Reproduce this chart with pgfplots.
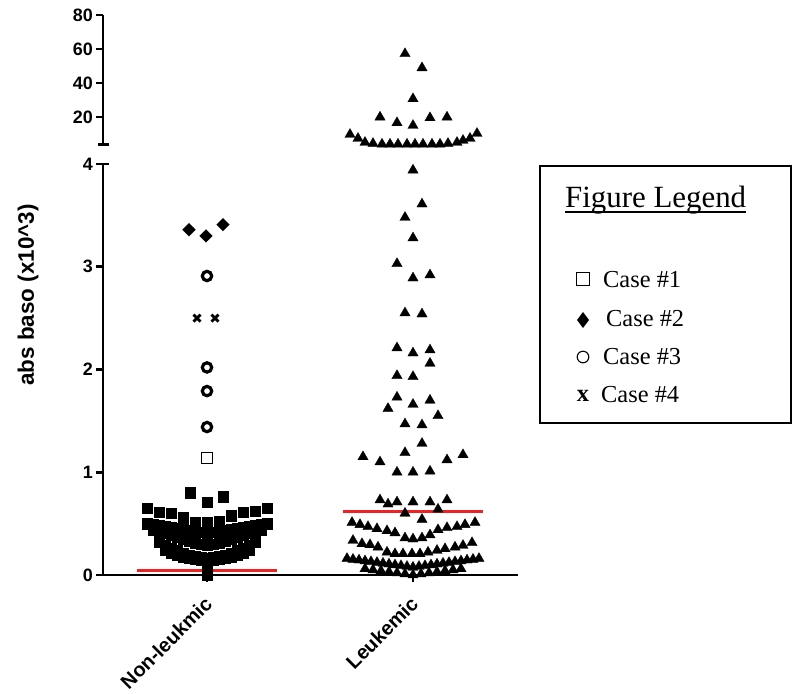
\documentclass[border=0pt]{standalone}
\usepackage{pgfplots}
\pgfplotsset{compat=1.18}
\usepackage{pgfplotstable}
\usepackage{fontspec}
\setmainfont{Liberation Sans}
\newfontfamily\timesfont{Liberation Serif}
\definecolor{medianred}{RGB}{238,34,34}

% x = horizontal position (Non-leukmic column at 0, Leukemic column at 206), y = abs baso (x10^3)
\pgfplotstableread{
x y
-17 0.80
0 0.71
16 0.76
-60 0.65
-48 0.61
-36 0.60
-24 0.56
-12 0.51
0 0.51
12 0.52
24 0.58
36 0.61
48 0.62
60 0.65
-60 0.50
-54 0.49
-48 0.48
-42 0.47
-36 0.46
-30 0.45
-24 0.44
-18 0.43
-12 0.42
-6 0.415
0 0.41
6 0.415
12 0.42
18 0.43
24 0.44
30 0.45
36 0.46
42 0.47
48 0.48
54 0.49
60 0.50
-54 0.44
-48 0.425
-42 0.41
-36 0.39
-30 0.37
-24 0.35
-18 0.33
-12 0.315
-6 0.30
0 0.295
6 0.30
12 0.315
18 0.33
24 0.35
30 0.37
36 0.39
42 0.41
48 0.425
54 0.44
-48 0.32
-42 0.29
-36 0.26
-30 0.235
-24 0.21
-18 0.195
-12 0.18
-6 0.17
0 0.165
6 0.17
12 0.18
18 0.195
24 0.21
30 0.235
36 0.26
42 0.29
48 0.32
-42 0.245
-36 0.22
-30 0.195
-24 0.18
-18 0.165
-12 0.155
-6 0.146
0 0.14
6 0.146
12 0.155
18 0.165
24 0.18
30 0.195
36 0.22
42 0.245
0 0.117
0 0.068
0 0.019
0 0.0
}\nonleuk

% Leukemic values below 4
\pgfplotstableread{
x y
206 3.94
215 3.61
198 3.48
206 3.28
190 3.03
206 2.89
223 2.92
198 2.55
215 2.54
190 2.21
206 2.16
223 2.19
223 2.06
190 1.94
206 1.93
190 1.73
181 1.62
206 1.66
223 1.70
231 1.55
198 1.47
215 1.46
215 1.28
156 1.15
173 1.10
198 1.19
240 1.12
256 1.17
190 1.00
206 1.00
223 1.01
173 0.73
181 0.69
190 0.71
206 0.71
223 0.71
231 0.64
240 0.73
198 0.60
215 0.54
145 0.51
153 0.49
161 0.47
170 0.45
180 0.43
188 0.41
198 0.36
206 0.35
215 0.36
223 0.39
231 0.44
240 0.46
250 0.47
258 0.49
268 0.51
146 0.336
155 0.304
163 0.294
171 0.271
180 0.222
188 0.206
196 0.206
205 0.206
213 0.206
221 0.222
230 0.239
238 0.255
248 0.271
256 0.287
265 0.314
140 0.160
146 0.152
152 0.145
158 0.137
164 0.129
170 0.121
176 0.114
182 0.106
188 0.098
194 0.090
200 0.083
206 0.075
212 0.083
218 0.090
224 0.098
230 0.106
236 0.114
242 0.121
248 0.129
254 0.137
260 0.145
266 0.152
272 0.160
158 0.060
166 0.050
174 0.040
182 0.030
190 0.020
198 0.010
206 0.000
214 0.010
222 0.020
230 0.030
238 0.040
246 0.050
254 0.060
}\leukLow

% Leukemic values of 4 and above
\pgfplotstableread{
x y
198 57.2
215 48.9
206 30.7
173 19.9
190 16.6
206 15.0
223 19.5
240 19.9
143 9.7
151 7.4
158 5.0
166 4.4
175 4.0
183 4.0
191 4.0
200 4.0
208 4.0
216 4.0
225 4.0
233 4.0
241 4.4
250 5.0
256 6.2
263 7.4
270 10.3
}\leukHigh

\tikzset{axisrule/.style={line width=2.8bp, line cap=butt}}

\pgfplotsset{
  panel/.style={
    scale only axis, width=415bp,
    xmin=-104, xmax=311, clip=false,
    axis line style={line width=2.8bp, -},
    every outer x axis line/.append style={-, line width=2.8bp},
    every outer y axis line/.append style={-, line width=2.8bp},
    every tick/.append style={line width=2.8bp, black},
    every major tick/.append style={line width=2.8bp, black},
    major tick length=7bp,
    tick align=outside,
    /pgf/number format/assume math mode=true,
    yticklabel style={font=\fontsize{18}{20}\selectfont\bfseries, inner sep=3bp},
  },
}

\begin{document}
\begin{tikzpicture}
\useasboundingbox (0,0) rectangle (793bp,694bp);

% lower segment, 0 to 4
\begin{axis}[axis x line=bottom, axis y line=left,
  at={(103bp,119bp)}, anchor=south west, height=411bp,
  ymin=0, ymax=4, ytick={0,1,2,3,4},
  xtick={0,206}, xticklabels={Non-leukmic,Leukemic},
  panel,
  xticklabel style={yshift=-17bp, xshift=3bp, rotate=45, anchor=east, inner sep=2bp,
    font=\fontsize{20}{23}\selectfont\bfseries},
]
% axis rules
\draw[axisrule] ([xshift=-1.4bp]rel axis cs:0,0) -- (rel axis cs:1,0);
\draw[axisrule] (rel axis cs:0,0) -- (rel axis cs:0,1);
\addplot[only marks, mark=square*, mark size=5.3pt,
  mark options={fill=black, draw=black, line width=0.3pt}] table {\nonleuk};
\addplot[only marks, mark=square, mark size=5.8pt,
  mark options={fill=white, draw=black, line width=1pt}] coordinates {(0,1.14)};
\addplot[only marks, mark=o, mark size=4.7pt,
  mark options={draw=black, line width=3.2pt}] coordinates {(0,1.44) (0,1.79) (0,2.02) (0,2.91)};
\addplot[only marks, mark=x, mark size=5pt,
  mark options={draw=black, line width=3pt}] coordinates {(-10,2.50) (8,2.50)};
\addplot[only marks, mark=square*, mark size=4.5pt,
  mark options={fill=black, draw=black, rotate=45, line width=0.3pt}]
  coordinates {(-18,3.36) (-1,3.30) (16,3.41)};
\addplot[only marks, mark=triangle*, mark size=6pt,
  mark options={fill=black, draw=black, line width=0.3pt}] table {\leukLow};
% medians
\addplot[medianred, line width=2.8bp, no marks] coordinates {(-70,0.04) (70,0.04)};
\addplot[medianred, line width=2.8bp, no marks] coordinates {(136,0.62) (276,0.62)};
% end cap of the lower segment
\draw[axisrule] ([xshift=-5.5bp]rel axis cs:0,1) -- ([xshift=5.5bp]rel axis cs:0,1);
\end{axis}

% upper segment, 4 to 80
\begin{axis}[axis y line=left, axis x line=none,
  at={(103bp,549.8bp)}, anchor=south west, height=129.2bp,
  ymin=4, ymax=80, ytick={20,40,60,80},
  panel,
]
\draw[axisrule] (rel axis cs:0,0) -- (rel axis cs:0,1);
\addplot[only marks, mark=triangle*, mark size=6pt,
  mark options={fill=black, draw=black, line width=0.3pt}] table {\leukHigh};
\draw[axisrule] ([xshift=-5.5bp]rel axis cs:0,0) -- ([xshift=5.5bp]rel axis cs:0,0);
\end{axis}

% y axis title
\node[rotate=90, font=\fontsize{22.5}{27}\selectfont\bfseries] at (28bp,399bp)
  {abs baso (x10\textasciicircum3)};

% legend box
\draw[line width=1.5bp] (540bp,271bp) rectangle (791bp,528bp);
\node[anchor=base west, inner sep=0pt, font=\timesfont\fontsize{31}{36}\selectfont]
  (lt) at (565bp,486bp) {Figure Legend};
\draw[line width=1.3bp] ([yshift=-4bp]lt.base west) -- ([yshift=-4bp]lt.base east);

\draw[line width=1.1bp] (576.5bp,408.5bp) rectangle (589.5bp,421.5bp);
\fill (583bp,382bp) -- (589bp,374bp) -- (583bp,366bp) -- (577bp,374bp) -- cycle;
\draw[line width=1.1bp] (583bp,337bp) circle (5.8bp);
\node[anchor=base, inner sep=0pt, font=\timesfont\bfseries\fontsize{24.5}{28}\selectfont]
  at (583bp,292bp) {x};

\begin{scope}[every node/.style={anchor=base west, inner sep=0pt,
    font=\timesfont\fontsize{24.5}{28}\selectfont}]
\node at (603bp,406bp) {Case \#1};
\node at (606bp,367bp) {Case \#2};
\node at (603bp,329bp) {Case \#3};
\node at (601bp,291bp) {Case \#4};
\end{scope}
\end{tikzpicture}
\end{document}
